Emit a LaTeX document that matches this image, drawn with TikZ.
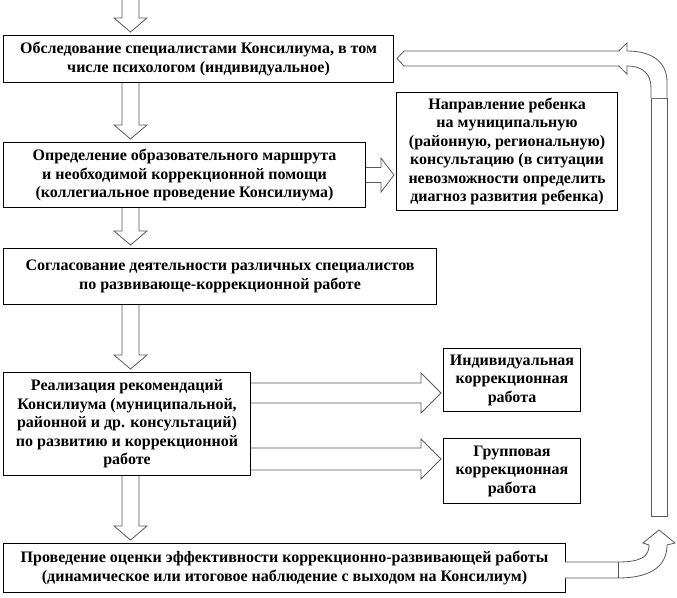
\documentclass[tikz,border=0pt]{standalone}
\usepackage{fontspec}
\setmainfont{Liberation Serif}
\usetikzlibrary{calc,positioning}

\tikzset{
  stage/.style={draw, line width=1.1pt, align=center, anchor=north west, inner sep=0pt,
    font=\bfseries\fontsize{16}{18.5}\selectfont},
  blockarrow/.style={draw=gray!70!black, line width=0.8pt, fill=white, line join=miter},
}

% block arrow pointing down: start point, tip point
\newcommand{\downblock}[2]{%
  \draw[blockarrow] let \p1=(#1), \p2=(#2) in
    (\x1-8.5pt,\y1) -- (\x1-8.5pt,\y2+17pt) -- (\x1-16.5pt,\y2+17pt) -- (\x1,\y2+3pt)
    -- (\x1+16.5pt,\y2+17pt) -- (\x1+8.5pt,\y2+17pt) -- (\x1+8.5pt,\y1);}

% block arrow pointing right: start, end, shaft half width, head half width, head length
\newcommand{\rightblock}[5]{%
  \draw[blockarrow] let \p1=(#1), \p2=(#2) in
    (\x1,\y1+#3) -- (\x2-#5-2pt,\y1+#3) -- (\x2-#5-2pt,\y1+#4) -- (\x2-2pt,\y1)
    -- (\x2-#5-2pt,\y1-#4) -- (\x2-#5-2pt,\y1-#3) -- (\x1,\y1-#3);}

\begin{document}
\begin{tikzpicture}[x=1pt,y=-1pt]
  \useasboundingbox (0,0) rectangle (677,597);

  % stages
  \node[stage, minimum width=390pt, minimum height=47pt] (obs) at (3,35)
    {Обследование специалистами Консилиума, в том\\ числе психологом (индивидуальное)};
  \node[stage, minimum width=362pt, minimum height=65pt] (opr) at (3,142)
    {Определение образовательного маршрута\\ и необходимой коррекционной помощи\\ (коллегиальное проведение Консилиума)};
  \node[stage, minimum width=221pt, minimum height=118pt] (napr) at (396,92)
    {Направление ребенка\\ на муниципальную\\ (районную, региональную)\\ консультацию (в ситуации\\ невозможности определить\\ диагноз развития ребенка)};
  \node[stage, minimum width=433pt, minimum height=56pt] (sogl) at (3,248)
    {Согласование деятельности различных специалистов\\ по развивающе-коррекционной работе};
  \node[stage, minimum width=247pt, minimum height=103pt] (real) at (3,372)
    {Реализация рекомендаций\\ Консилиума (муниципальной,\\ районной и др. консультаций)\\ по развитию и коррекционной\\ работе};
  \node[stage, minimum width=137pt, minimum height=63pt] (ind) at (443,348)
    {Индивидуальная\\ коррекционная\\ работа};
  \node[stage, minimum width=137pt, minimum height=65pt] (grp) at (443,438)
    {Групповая\\ коррекционная\\ работа};
  \node[stage, minimum width=562pt, minimum height=49pt] (prov) at (3,543)
    {Проведение оценки эффективности коррекционно-развивающей работы\\ (динамическое или итоговое наблюдение с выходом на Консилиум)};

  % arrows down the left column
  \coordinate (col) at (130.5,0);
  \downblock{col}{col |- obs.north}
  \downblock{col |- obs.south}{col |- opr.north}
  \downblock{col |- opr.south}{col |- sogl.north}
  \downblock{col |- sogl.south}{col |- real.north}
  \downblock{col |- real.south}{col |- prov.north}

  % arrows to the right
  \rightblock{opr.east}{napr.west |- opr.east}{7.5pt}{17pt}{13pt}
  \coordinate (indrow) at (0,393);
  \coordinate (grprow) at (0,459);
  \rightblock{real.east |- indrow}{ind.west |- indrow}{10pt}{20pt}{20pt}
  \rightblock{real.east |- grprow}{grp.west |- grprow}{11pt}{20pt}{20pt}

  % return loop on the right
  \draw[blockarrow] (651,98) rectangle (667,516);
  \draw[blockarrow] (565,562) -- (618,562) .. controls (642,562) and (649,556) .. (649,545)
    -- (643,543) -- (659,530) -- (675,543) -- (667,545)
    .. controls (667,568) and (648,578) .. (618,578) -- (565,578);
  \draw[blockarrow] (618,562) -- (618,578);
  \draw[blockarrow] (651,98) -- (651,88) .. controls (651,74) and (643,66) .. (627,66)
    -- (627,74) -- (611,58.5) -- (627,43) -- (627,51)
    .. controls (652,51) and (667,62) .. (667,82) -- (667,98);
  \draw[blockarrow] (620,51) -- (404,51) -- (397,58.5) -- (404,66) -- (620,66);
\end{tikzpicture}
\end{document}
